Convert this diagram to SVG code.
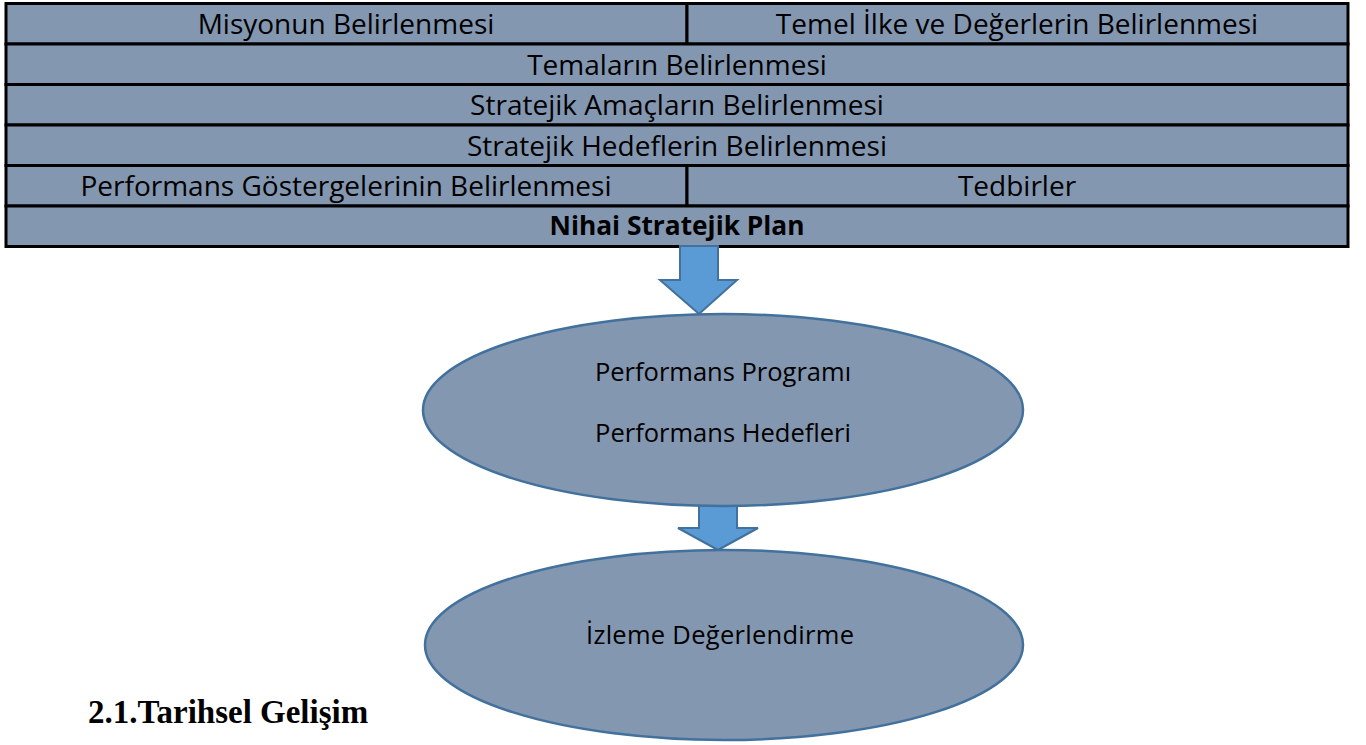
<svg xmlns="http://www.w3.org/2000/svg" width="1366" height="745" viewBox="0 0 1366 745">
  <style>
    .cell { fill: #8497b0; stroke: #000; stroke-width: 3; }
    .lbl { font-family: "Open Sans", "Liberation Sans", sans-serif; font-size: 28px; fill: #000; text-anchor: middle; }
    .small { font-size: 25.5px; }
    .bold { font-weight: bold; font-size: 26.3px; }
    .oval { fill: #8497b0; stroke: #41719c; stroke-width: 2.5; }
    .arrow { fill: #5b9bd5; stroke: #41719c; stroke-width: 2; }
    .head { font-family: "Liberation Serif", serif; font-size: 33px; font-weight: bold; fill: #000; }
  </style>

  <g id="table">
    <g id="misyon"><rect class="cell" x="6" y="3.5" width="681" height="40.5"/><text class="lbl" x="346" y="34">Misyonun Belirlenmesi</text></g>
    <g id="ilkeler"><rect class="cell" x="687" y="3.5" width="661" height="40.5"/><text class="lbl" x="1017" y="34">Temel İlke ve Değerlerin Belirlenmesi</text></g>
    <g id="temalar"><rect class="cell" x="6" y="44" width="1342" height="40.5"/><text class="lbl" x="677" y="75">Temaların Belirlenmesi</text></g>
    <g id="amaclar"><rect class="cell" x="6" y="84.5" width="1342" height="40.5"/><text class="lbl" x="677" y="115">Stratejik Amaçların Belirlenmesi</text></g>
    <g id="hedefler"><rect class="cell" x="6" y="125" width="1342" height="40.5"/><text class="lbl" x="677" y="156">Stratejik Hedeflerin Belirlenmesi</text></g>
    <g id="gostergeler"><rect class="cell" x="6" y="165.5" width="681" height="40.5"/><text class="lbl" x="346" y="196">Performans Göstergelerinin Belirlenmesi</text></g>
    <g id="tedbirler"><rect class="cell" x="687" y="165.5" width="661" height="40.5"/><text class="lbl" x="1017" y="196">Tedbirler</text></g>
    <g id="nihai"><rect class="cell" x="6" y="206" width="1342" height="40.5"/><text class="lbl bold" x="677" y="235">Nihai Stratejik Plan</text></g>
  </g>

  <g id="connectors">
    <path class="arrow" d="M680,246 H718 V280 H737 L699,314 L660,280 H680 Z"/>
    <path class="arrow" d="M699,505 H737 V528 H758 L718,550 L678,528 H699 Z"/>
  </g>

  <g id="performans-programi">
    <ellipse class="oval" cx="723" cy="410" rx="300" ry="96"/>
    <text class="lbl small" x="723" y="381">Performans Programı</text>
    <text class="lbl small" x="723" y="442">Performans Hedefleri</text>
  </g>

  <g id="izleme">
    <ellipse class="oval" cx="724" cy="645" rx="299" ry="95"/>
    <text class="lbl small" x="720" y="644" textLength="268">İzleme Değerlendirme</text>
  </g>

  <text class="head" x="88" y="723">2.1.Tarihsel Gelişim</text>
</svg>
